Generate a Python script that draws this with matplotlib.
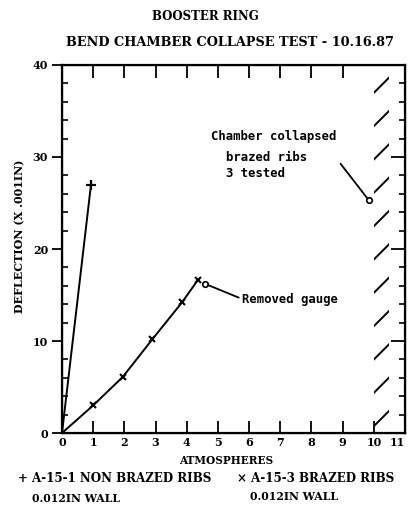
import numpy as np
import matplotlib.pyplot as plt

# A-15-1 non brazed ribs, 0.012in wall
atm_nonbrazed = [0, 0.93]
defl_nonbrazed = [0, 27.0]

# A-15-3 brazed ribs, 0.012in wall
atm_brazed = [0, 1, 1.95, 2.9, 3.85, 4.35]
defl_brazed = [0, 3.0, 6.1, 10.2, 14.2, 16.6]

collapse_atm = [10.0, 10.5]
x_ticklabels = [str(i) for i in range(12)]
y_ticklabels = ['0', '10', '20', '30', '40']

plt.rcParams['hatch.linewidth'] = 1.4
serif = 'DejaVu Serif'
mono = 'DejaVu Sans Mono'

fig = plt.figure(figsize=(4.1, 5.08), dpi=100)
ax = fig.add_axes([62/410, 1-433/508, (405-62)/410, (433-65)/508])

ax.plot(atm_nonbrazed, defl_nonbrazed, color='black', lw=1.4)
ax.plot(atm_nonbrazed[1:], defl_nonbrazed[1:], ls='none', marker='+',
        ms=7, mew=1.6, color='black')
ax.plot(atm_brazed, defl_brazed, color='black', lw=1.4,
        marker='x', ms=5, mew=1.5, markevery=list(range(1, len(atm_brazed))))

# collapse region
ax.axvspan(collapse_atm[0], collapse_atm[1], facecolor='none',
           edgecolor='black', hatch='/', linewidth=0)

# annotations
ax.annotate('', xy=(4.6, 16.2), xytext=(5.75, 14.6),
            arrowprops=dict(arrowstyle='-', color='black', lw=1.3))
ax.plot([4.6], [16.2], marker='o', ms=4, mfc='white', mec='black', mew=1.2)
ax.text(5.78, 14.5, 'Removed gauge', fontsize=8.8, family=mono,
        fontweight='bold', va='center', ha='left')

ax.annotate('', xy=(9.84, 25.3), xytext=(8.88, 29.5),
            arrowprops=dict(arrowstyle='-', color='black', lw=1.3))
ax.plot([9.84], [25.3], marker='o', ms=4, mfc='white', mec='black', mew=1.2)
ax.text(6.78, 32.2, 'Chamber collapsed', fontsize=8.8, family=mono,
        fontweight='bold', ha='center', va='center')
ax.text(6.55, 29.9, 'brazed ribs', fontsize=8.8, family=mono,
        fontweight='bold', ha='center', va='center')
ax.text(6.2, 28.2, '3 tested', fontsize=8.8, family=mono,
        fontweight='bold', ha='center', va='center')

ax.set_xlim(0, 11)
ax.set_ylim(0, 40)
for s in ax.spines.values():
    s.set_linewidth(1.6)

ax.set_xticks(range(12))
ax.set_xticklabels(x_ticklabels, fontsize=8, family=serif, fontweight='bold')
ax.get_xticklabels()[-1].set_horizontalalignment('right')
ax.set_yticks(range(0, 41, 10))
ax.set_yticklabels(y_ticklabels, fontsize=8, family=serif, fontweight='bold')
ax.set_yticks(range(0, 41, 2), minor=True)
ax.tick_params(axis='x', direction='in', length=9, width=1.3, pad=3)
ax.tick_params(axis='y', which='major', direction='out', length=7, width=1.3, pad=3)
ax.tick_params(axis='y', which='minor', direction='in', length=4, width=1.2)

# right side ticks
axr = ax.twinx()
axr.set_ylim(0, 40)
axr.set_yticks(range(10, 31, 10))
axr.set_yticks(range(0, 41, 2), minor=True)
axr.tick_params(axis='y', which='major', direction='in', length=10, width=1.3, labelright=False)
axr.tick_params(axis='y', which='minor', direction='in', length=4, width=1.2)

# top ticks
axt = ax.twiny()
axt.set_xlim(0, 11)
axt.set_xticks(range(1, 10))
axt.tick_params(axis='x', direction='in', length=9, width=1.3, labeltop=False)

fig.text(0.5, 1-17/508, 'BOOSTER RING', ha='center', va='center',
         fontsize=8.5, family=serif, fontweight='bold')
fig.text(230/410, 1-43/508, 'BEND CHAMBER COLLAPSE TEST - 10.16.87', ha='center',
         va='center', fontsize=9.3, family=serif, fontweight='bold')
fig.text(226/410, 1-461/508, 'ATMOSPHERES', ha='center', va='center',
         fontsize=7.6, family=serif, fontweight='bold')
fig.text(20/410, 1-236/508, 'DEFLECTION (X .001IN)', ha='center', va='center',
         rotation=90, fontsize=8, family=serif, fontweight='bold')

fig.text(18/410, 1-479/508, '+ A-15-1 NON BRAZED RIBS', ha='left', va='center',
         fontsize=8.6, family=serif, fontweight='bold')
fig.text(32/410, 1-498/508, '0.012IN WALL', ha='left', va='center',
         fontsize=7.8, family=serif, fontweight='bold')
fig.text(237/410, 1-479/508, '\u00d7 A-15-3 BRAZED RIBS', ha='left', va='center',
         fontsize=8.6, family=serif, fontweight='bold')
fig.text(250/410, 1-497/508, '0.012IN WALL', ha='left', va='center',
         fontsize=7.8, family=serif, fontweight='bold')

fig.savefig('out.png', dpi=100)
